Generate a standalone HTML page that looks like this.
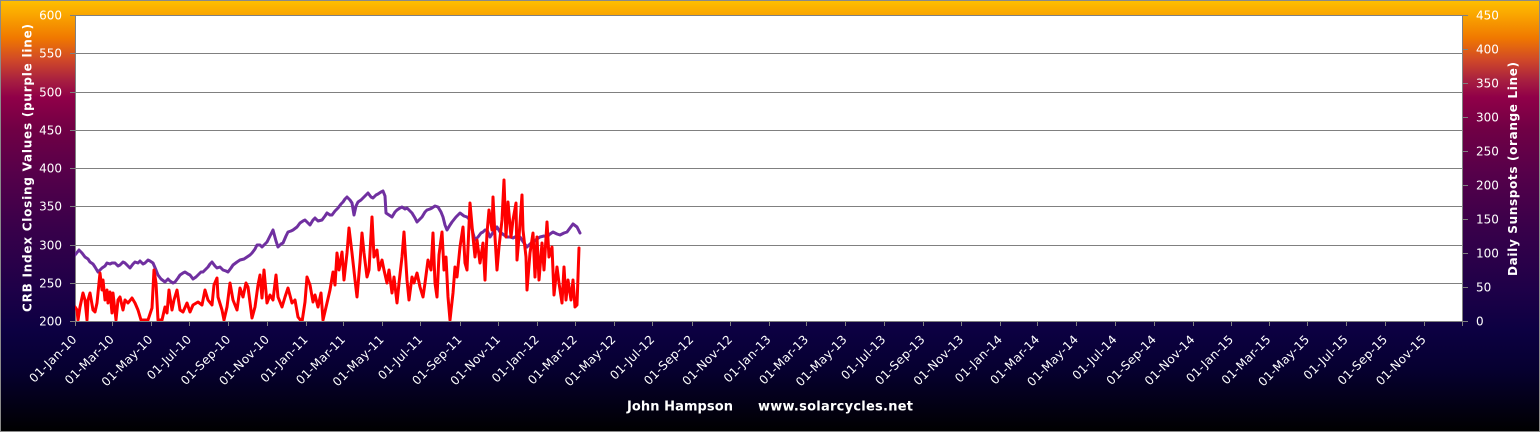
<!DOCTYPE html>
<html><head><meta charset="utf-8"><style>
html,body{margin:0;padding:0;background:#000;}
svg{display:block;}
text{font-family:"DejaVu Sans","Liberation Sans",sans-serif;fill:#fff;}
</style></head><body>
<svg width="1540" height="432" viewBox="0 0 1540 432" xmlns="http://www.w3.org/2000/svg">
<defs>
<linearGradient id="bg" x1="0" y1="0" x2="0" y2="1">
<stop offset="0" stop-color="#FFC000"/>
<stop offset="0.035" stop-color="#FAA500"/>
<stop offset="0.088" stop-color="#F07800"/>
<stop offset="0.139" stop-color="#D04828"/>
<stop offset="0.185" stop-color="#A82040"/>
<stop offset="0.225" stop-color="#900048"/>
<stop offset="0.30" stop-color="#700045"/>
<stop offset="0.405" stop-color="#55004A"/>
<stop offset="0.53" stop-color="#38004A"/>
<stop offset="0.67" stop-color="#1E0048"/>
<stop offset="0.764" stop-color="#0C0042"/>
<stop offset="0.856" stop-color="#060030"/>
<stop offset="1" stop-color="#000000"/>
</linearGradient>
<clipPath id="pc"><rect x="75" y="15" width="1388" height="306"/></clipPath>
</defs>
<rect x="0" y="0" width="1540" height="432" fill="url(#bg)"/>
<rect x="0.5" y="0.5" width="1539" height="431" fill="none" stroke="#8a8a8a" stroke-width="1"/>
<rect x="75" y="15" width="1388" height="306" fill="#fff"/>
<g stroke="#808080" stroke-width="1" fill="none">
<path d="M75 15.5H1463M75 53.5H1463M75 92.5H1463M75 130.5H1463M75 168.5H1463M75 206.5H1463M75 245.5H1463M75 283.5H1463M75 321.5H1463"/>
<path d="M75.5 15V321M1462.5 15V321"/>
<path d="M70 15.5H75M70 53.5H75M70 92.5H75M70 130.5H75M70 168.5H75M70 206.5H75M70 245.5H75M70 283.5H75M70 321.5H75"/>
<path d="M1463 15.5H1468M1463 49.5H1468M1463 83.5H1468M1463 117.5H1468M1463 151.5H1468M1463 185.5H1468M1463 219.5H1468M1463 253.5H1468M1463 287.5H1468M1463 321.5H1468"/>
<path d="M75.5 321v5M112.5 321v5M151.5 321v5M189.5 321v5M228.5 321v5M267.5 321v5M306.5 321v5M343.5 321v5M382.5 321v5M420.5 321v5M460.5 321v5M498.5 321v5M537.5 321v5M575.5 321v5M614.5 321v5M652.5 321v5M692.5 321v5M730.5 321v5M769.5 321v5M806.5 321v5M845.5 321v5M884.5 321v5M923.5 321v5M961.5 321v5M1000.5 321v5M1037.5 321v5M1076.5 321v5M1115.5 321v5M1154.5 321v5M1193.5 321v5M1231.5 321v5M1269.5 321v5M1307.5 321v5M1346.5 321v5M1385.5 321v5M1424.5 321v5M1462.5 321v5"/>
</g>
<g clip-path="url(#pc)" fill="none" stroke-width="3" stroke-linejoin="round" stroke-linecap="round">
<polyline stroke="#7030A0" points="75,255 79,250 82,253 85,257 88,259 90,262 93,264 95,267 98,272 102,268 105,266 107,263 110,264 112,263 115,263 118,266 120,265 123,262 125,263 128,266 130,268 133,264 135,262 138,263 140,261 143,264 145,263 148,260 150,261 153,263 156,270 158,275 161,279 165,282 168,279 170,281 173,283 175,282 178,278 180,275 183,273 185,272 188,274 190,275 193,279 196,277 198,275 201,272 203,272 206,269 208,267 210,264 212,262 215,266 217,268 220,267 223,270 226,271 228,272 231,268 233,265 237,262 240,260 244,259 247,257 250,255 252,253 255,249 257,245 260,245 262,247 265,244 267,242 270,236 273,230 276,241 278,247 281,244 283,243 286,236 288,232 291,231 293,230 297,227 300,223 303,221 305,220 308,223 310,225 313,220 315,218 318,221 322,220 325,216 327,213 330,215 332,215 335,211 338,208 341,204 343,202 345,199 347,197 350,200 352,203 354,215 356,206 358,202 361,200 363,198 366,195 368,193 371,197 373,198 376,195 378,194 381,192 383,191 385,196 386,213 389,215 392,217 395,212 397,210 400,208 402,207 405,209 407,208 410,211 412,213 415,218 417,222 420,219 422,217 425,212 427,210 430,209 432,208 435,206 438,207 441,212 443,217 445,225 447,230 450,225 452,222 456,217 460,213 464,216 467,217 470,220 473,233 475,240 478,237 481,233 483,232 485,230 487,230 490,237 494,231 497,227 500,232 504,235 507,237 510,237 513,238 517,236 520,237 524,243 527,247 530,244 533,242 537,239 540,237 544,236 547,237 550,234 553,232 557,234 560,235 564,233 567,232 570,228 573,224 577,227 579,231 580,233"/>
<polyline stroke="#FF0000" points="75,307 77,310 78,320 80,307 83,293 85,300 87,320 88,300 90,293 93,310 95,312 97,303 100,273 102,290 103,280 105,300 107,290 108,303 110,292 112,313 113,293 116,320 118,300 120,297 123,310 125,300 128,303 132,298 135,303 138,310 141,320 148,320 152,308 154,270 156,283 158,320 162,320 165,307 167,313 169,290 172,310 174,300 177,290 180,310 183,312 187,303 190,312 193,305 198,302 202,305 205,290 208,300 212,305 214,285 217,278 218,297 222,310 224,320 227,307 230,283 233,300 237,310 240,288 243,297 246,283 248,287 252,318 255,307 258,285 260,275 262,298 264,270 267,303 270,295 273,300 276,275 278,297 282,307 285,297 288,288 292,303 295,300 298,317 302,322 305,302 307,277 310,285 313,302 315,295 318,307 321,293 323,320 327,303 330,290 333,272 335,285 337,253 339,270 342,252 344,280 347,253 349,228 352,253 355,280 357,297 360,262 362,233 364,253 367,277 369,270 372,217 374,257 377,250 379,270 382,260 384,270 387,283 389,270 392,293 394,277 397,303 399,283 402,257 404,232 407,280 409,300 412,277 414,283 417,273 420,287 423,297 425,283 428,260 431,270 433,233 435,283 437,297 439,255 442,232 444,270 446,257 448,297 450,320 453,293 455,267 457,277 460,247 463,227 465,263 467,270 470,203 473,237 475,257 477,240 480,263 483,243 485,280 487,233 489,210 492,230 493,197 495,237 497,270 499,247 502,220 504,180 506,237 508,202 511,237 513,220 516,203 517,260 519,237 522,195 523,230 526,257 527,290 530,253 533,233 535,277 537,237 539,280 542,243 544,270 547,222 549,257 552,247 554,295 557,267 559,283 562,303 564,267 566,300 568,280 571,300 573,280 575,307 577,305 579,248"/>
</g>
<g font-size="12" text-anchor="end">
<text x="62" y="19.5">600</text>
<text x="62" y="57.5">550</text>
<text x="62" y="96.5">500</text>
<text x="62" y="134.5">450</text>
<text x="62" y="172.5">400</text>
<text x="62" y="210.5">350</text>
<text x="62" y="249.5">300</text>
<text x="62" y="287.5">250</text>
<text x="62" y="325.5">200</text>
</g>
<g font-size="12" text-anchor="start">
<text x="1476" y="19.5">450</text>
<text x="1476" y="53.5">400</text>
<text x="1476" y="87.5">350</text>
<text x="1476" y="121.5">300</text>
<text x="1476" y="155.5">250</text>
<text x="1476" y="189.5">200</text>
<text x="1476" y="223.5">150</text>
<text x="1476" y="257.5">100</text>
<text x="1476" y="291.5">50</text>
<text x="1476" y="325.5">0</text>
</g>
<text font-size="12" font-weight="bold" text-anchor="middle" transform="translate(31.5,168) rotate(-90)" textLength="288" lengthAdjust="spacing">CRB Index Closing Values (purple line)</text>
<text font-size="12" font-weight="bold" text-anchor="middle" transform="translate(1517,169) rotate(-90)" textLength="214" lengthAdjust="spacing">Daily Sunspots (orange Line)</text>
<text x="627" y="410.5" font-size="13" font-weight="bold" textLength="106" lengthAdjust="spacing">John Hampson</text>
<text x="758" y="410.5" font-size="13" font-weight="bold" textLength="155" lengthAdjust="spacing">www.solarcycles.net</text>
<g font-size="12" text-anchor="end" letter-spacing="0.3">
<text transform="translate(77.5,340) rotate(-45)">01-Jan-10</text>
<text transform="translate(114.9,340) rotate(-45)">01-Mar-10</text>
<text transform="translate(153.5,340) rotate(-45)">01-May-10</text>
<text transform="translate(192.2,340) rotate(-45)">01-Jul-10</text>
<text transform="translate(231.4,340) rotate(-45)">01-Sep-10</text>
<text transform="translate(270.1,340) rotate(-45)">01-Nov-10</text>
<text transform="translate(308.7,340) rotate(-45)">01-Jan-11</text>
<text transform="translate(346.1,340) rotate(-45)">01-Mar-11</text>
<text transform="translate(384.7,340) rotate(-45)">01-May-11</text>
<text transform="translate(423.4,340) rotate(-45)">01-Jul-11</text>
<text transform="translate(462.7,340) rotate(-45)">01-Sep-11</text>
<text transform="translate(501.3,340) rotate(-45)">01-Nov-11</text>
<text transform="translate(540,340) rotate(-45)">01-Jan-12</text>
<text transform="translate(578,340) rotate(-45)">01-Mar-12</text>
<text transform="translate(616.6,340) rotate(-45)">01-May-12</text>
<text transform="translate(655.3,340) rotate(-45)">01-Jul-12</text>
<text transform="translate(694.5,340) rotate(-45)">01-Sep-12</text>
<text transform="translate(733.2,340) rotate(-45)">01-Nov-12</text>
<text transform="translate(771.8,340) rotate(-45)">01-Jan-13</text>
<text transform="translate(809.2,340) rotate(-45)">01-Mar-13</text>
<text transform="translate(847.8,340) rotate(-45)">01-May-13</text>
<text transform="translate(886.5,340) rotate(-45)">01-Jul-13</text>
<text transform="translate(925.8,340) rotate(-45)">01-Sep-13</text>
<text transform="translate(964.4,340) rotate(-45)">01-Nov-13</text>
<text transform="translate(1003.1,340) rotate(-45)">01-Jan-14</text>
<text transform="translate(1040.4,340) rotate(-45)">01-Mar-14</text>
<text transform="translate(1079.1,340) rotate(-45)">01-May-14</text>
<text transform="translate(1117.7,340) rotate(-45)">01-Jul-14</text>
<text transform="translate(1157,340) rotate(-45)">01-Sep-14</text>
<text transform="translate(1195.6,340) rotate(-45)">01-Nov-14</text>
<text transform="translate(1234.3,340) rotate(-45)">01-Jan-15</text>
<text transform="translate(1271.6,340) rotate(-45)">01-Mar-15</text>
<text transform="translate(1310.3,340) rotate(-45)">01-May-15</text>
<text transform="translate(1348.9,340) rotate(-45)">01-Jul-15</text>
<text transform="translate(1388.2,340) rotate(-45)">01-Sep-15</text>
<text transform="translate(1426.9,340) rotate(-45)">01-Nov-15</text>
</g>
</svg>
</body></html>
